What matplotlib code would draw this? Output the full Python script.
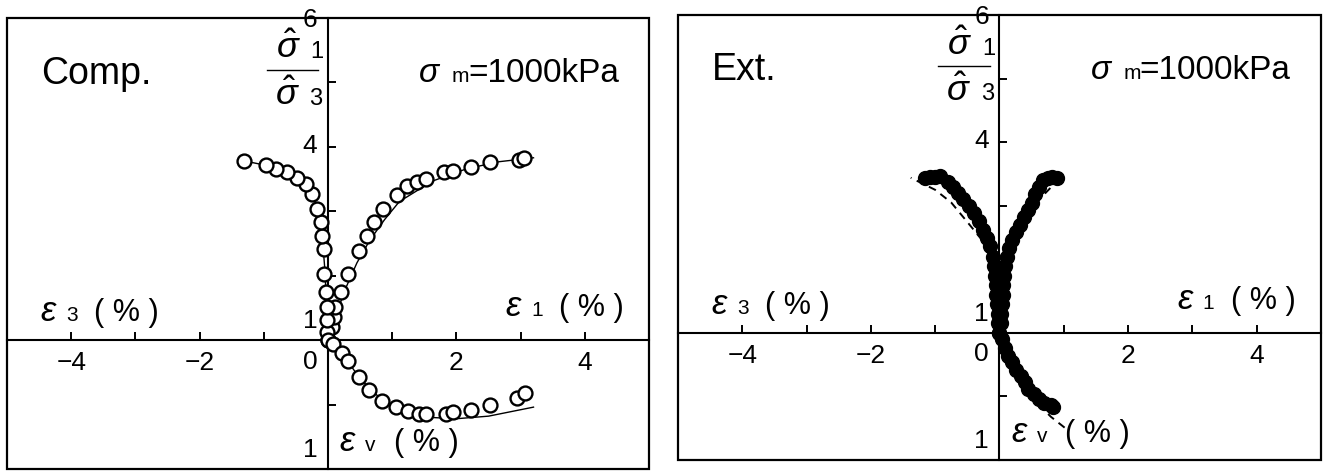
import matplotlib
matplotlib.use('Agg')
import matplotlib.pyplot as plt
from matplotlib.patches import Rectangle
import numpy as np

plt.rcParams['font.family'] = ['Liberation Sans', 'DejaVu Sans']
plt.rcParams['mathtext.fontset'] = 'custom'
plt.rcParams['mathtext.rm'] = 'Liberation Sans'
plt.rcParams['mathtext.it'] = 'Liberation Sans:italic'

# --- compression test, sigma_m = 1000 kPa ---
comp_e1 = [0.06, 0.09, 0.11, 0.20, 0.31, 0.48, 0.61, 0.72, 0.86, 1.08, 1.23,
           1.39, 1.52, 1.81, 1.94, 2.23, 2.52, 2.98, 3.05]
comp_e1_ratio = [1.20, 1.36, 1.52, 1.75, 2.02, 2.39, 2.61, 2.83, 3.03, 3.25, 3.39,
                 3.45, 3.50, 3.61, 3.63, 3.69, 3.77, 3.80, 3.83]
comp_e3 = [0.0, -0.01, -0.01, -0.02, -0.03, -0.06, -0.06, -0.09, -0.11, -0.17,
           -0.25, -0.34, -0.48, -0.64, -0.81, -0.97, -1.31]
comp_e3_ratio = [1.00, 1.12, 1.31, 1.52, 1.75, 2.02, 2.41, 2.61, 2.83, 3.03,
                 3.27, 3.42, 3.52, 3.61, 3.66, 3.72, 3.78]
comp_ev_e1 = [0.0, 0.08, 0.22, 0.31, 0.48, 0.64, 0.84, 1.06, 1.25, 1.42, 1.53,
              1.83, 1.94, 2.23, 2.52, 2.94, 3.06]
comp_ev = [0.0, 0.03, 0.10, 0.16, 0.29, 0.39, 0.47, 0.52, 0.55, 0.57, 0.57,
           0.57, 0.56, 0.54, 0.50, 0.45, 0.41]

# model curves (solid)
comp_fit_e1 = [0.0, 0.10, 0.25, 0.45, 0.65, 0.88, 1.11, 1.63, 2.16, 2.67, 3.20]
comp_fit_e1_ratio = [1.0, 1.30, 1.75, 2.20, 2.55, 2.87, 3.15, 3.47, 3.66, 3.77, 3.83]
comp_fit_e3 = [0.0, -0.02, -0.05, -0.09, -0.15, -0.25, -0.45, -0.75, -1.05, -1.25]
comp_fit_e3_ratio = [1.0, 1.5, 2.1, 2.6, 3.0, 3.3, 3.52, 3.66, 3.73, 3.77]
comp_fit_ev_e1 = [0.0, 0.20, 0.50, 0.85, 1.20, 1.60, 2.00, 2.50, 3.20]
comp_fit_ev = [0.0, 0.09, 0.30, 0.47, 0.56, 0.60, 0.61, 0.59, 0.52]

# --- extension test, sigma_m = 1000 kPa ---
ext_e1 = [0.02, 0.03, 0.04, 0.05, 0.06, 0.07, 0.09, 0.11, 0.15, 0.20, 0.26,
          0.32, 0.38, 0.44, 0.50, 0.56, 0.62, 0.68, 0.75, 0.82, 0.89]
ext_e1_ratio = [1.15, 1.30, 1.45, 1.60, 1.75, 1.90, 2.05, 2.20, 2.34, 2.46, 2.58,
                2.70, 2.82, 2.93, 3.05, 3.18, 3.30, 3.40, 3.44, 3.45, 3.44]
ext_e3 = [0.0, -0.02, -0.03, -0.04, -0.05, -0.06, -0.07, -0.09, -0.10, -0.14,
          -0.19, -0.25, -0.32, -0.40, -0.48, -0.56, -0.64, -0.72, -0.80, -0.92,
          -1.00, -1.08, -1.16]
ext_e3_ratio = [1.00, 1.15, 1.30, 1.45, 1.60, 1.75, 1.90, 2.05, 2.20, 2.36,
                2.50, 2.62, 2.76, 2.88, 3.00, 3.10, 3.20, 3.30, 3.38, 3.47,
                3.45, 3.45, 3.44]
ext_ev_e1 = [0.0, 0.04, 0.09, 0.14, 0.19, 0.26, 0.33, 0.39, 0.45, 0.53, 0.61,
             0.70, 0.80, 0.84]
ext_ev = [0.0, 0.05, 0.12, 0.18, 0.23, 0.29, 0.34, 0.39, 0.44, 0.48, 0.52,
          0.55, 0.57, 0.58]

# model curves (dashed)
ext_fit_e1 = [0.0, 0.03, 0.08, 0.16, 0.34, 0.61, 0.84, 1.03]
ext_fit_e1_ratio = [1.0, 1.4, 1.85, 2.2, 2.62, 3.09, 3.33, 3.45]
ext_fit_e3 = [0.0, -0.03, -0.08, -0.16, -0.28, -0.44, -0.75, -1.00, -1.38]
ext_fit_e3_ratio = [1.0, 1.4, 1.85, 2.2, 2.47, 2.67, 3.05, 3.25, 3.44]
ext_fit_ev_e1 = [0.0, 0.20, 0.40, 0.60, 0.80, 1.05]
ext_fit_ev = [0.0, 0.22, 0.40, 0.56, 0.66, 0.76]

x_ticks = [-4, -3, -2, -1, 1, 2, 3, 4]
x_tick_labels = ['\u22124', '', '\u22122', '', '', '2', '', '4']


# upper half: stress ratio (1 on the strain axis), lower half: volumetric strain (x2)
def up(ratio):
    return np.asarray(ratio) - 1.0


def down(ev):
    return -2.0 * np.asarray(ev)


def setup_axes(ax, title):
    ax.set_xlim(-5, 5)
    ax.set_ylim(-2, 5)
    for side in ['top', 'right']:
        ax.spines[side].set_visible(False)
    ax.spines['left'].set_position(('data', 0))
    ax.spines['bottom'].set_position(('data', 0))
    ax.spines['left'].set_linewidth(1.5)
    ax.spines['bottom'].set_linewidth(1.5)
    ax.add_patch(Rectangle((0, 0), 1, 1, transform=ax.transAxes, fill=False,
                           lw=1.6, ec='black', clip_on=False, zorder=5))
    ax.set_xticks(x_ticks, labels=x_tick_labels)
    ax.set_yticks([-1, 1, 2, 3, 4], labels=[])
    ax.tick_params(axis='x', direction='in', length=6, width=1.4, pad=8,
                   labelsize=19)
    ax.tick_params(axis='y', direction='in', length=6, width=1.4)

    # values along the vertical axis
    for y, s in [(4.97, '6'), (3.02, '4'), (0.30, '1'), (-0.34, '0'), (-1.70, '1')]:
        ax.text(-0.28, y, s, fontsize=19, ha='center', va='center')

    ax.text(-4.47, 3.97, title, fontsize=27)

    # sigma_m = 1000kPa
    ax.text(1.42, 4.0, '\u03c3', fontsize=24, style='italic')
    ax.text(1.93, 4.0, 'm', fontsize=15)
    ax.text(2.18, 4.0, '=1000kPa', fontsize=24)

    # stress ratio symbol
    ax.text(-0.62, 4.52, r'$\hat{\sigma}$', fontsize=26, ha='center', va='center')
    ax.text(-0.17, 4.47, '1', fontsize=17, ha='center', va='center')
    ax.plot([-0.95, -0.15], [4.2, 4.2], color='black', lw=1.0, clip_on=False)
    ax.text(-0.64, 3.80, r'$\hat{\sigma}$', fontsize=26, ha='center', va='center')
    ax.text(-0.19, 3.75, '3', fontsize=17, ha='center', va='center')

    # strain axis names
    for x, y, sub in [(-4.48, 0.30, '3'), (2.76, 0.37, '1'), (0.18, -1.72, 'v')]:
        ax.text(x, y, '\u03b5', fontsize=25, style='italic')
        ax.text(x + 0.40, y, sub, fontsize=15)
        ax.text(x + 0.84, y, '( % )', fontsize=22)


fig = plt.figure(figsize=(13.26, 4.72), dpi=100)
ax1 = fig.add_axes([0.0053, 0.0064, 0.4842, 0.9555])
ax2 = fig.add_axes([0.5113, 0.0254, 0.4849, 0.9428])

setup_axes(ax1, 'Comp.')
setup_axes(ax2, 'Ext.')

# compression panel
ax1.plot(comp_fit_e1, up(comp_fit_e1_ratio), color='black', lw=1.0)
ax1.plot(comp_fit_e3, up(comp_fit_e3_ratio), color='black', lw=1.0)
ax1.plot(comp_fit_ev_e1, down(comp_fit_ev), color='black', lw=1.0)
open_style = dict(ls='none', marker='o', ms=10, mfc='white', mec='black',
                  mew=1.7, zorder=4)
ax1.plot(comp_e1, up(comp_e1_ratio), **open_style)
ax1.plot(comp_e3, up(comp_e3_ratio), **open_style)
ax1.plot(comp_ev_e1, down(comp_ev), **open_style)

# extension panel
dash = dict(color='black', lw=1.4, ls=(0, (4, 3)))
ax2.plot(ext_fit_e1, up(ext_fit_e1_ratio), **dash)
ax2.plot(ext_fit_e3, up(ext_fit_e3_ratio), **dash)
ax2.plot(ext_fit_ev_e1, down(ext_fit_ev), **dash)
full_style = dict(ls='none', marker='o', ms=10, mfc='black', mec='black', zorder=4)
ax2.plot(ext_e1, up(ext_e1_ratio), **full_style)
ax2.plot(ext_e3, up(ext_e3_ratio), **full_style)
ax2.plot(ext_ev_e1, down(ext_ev), **full_style)

fig.savefig('out.png', dpi=100)
